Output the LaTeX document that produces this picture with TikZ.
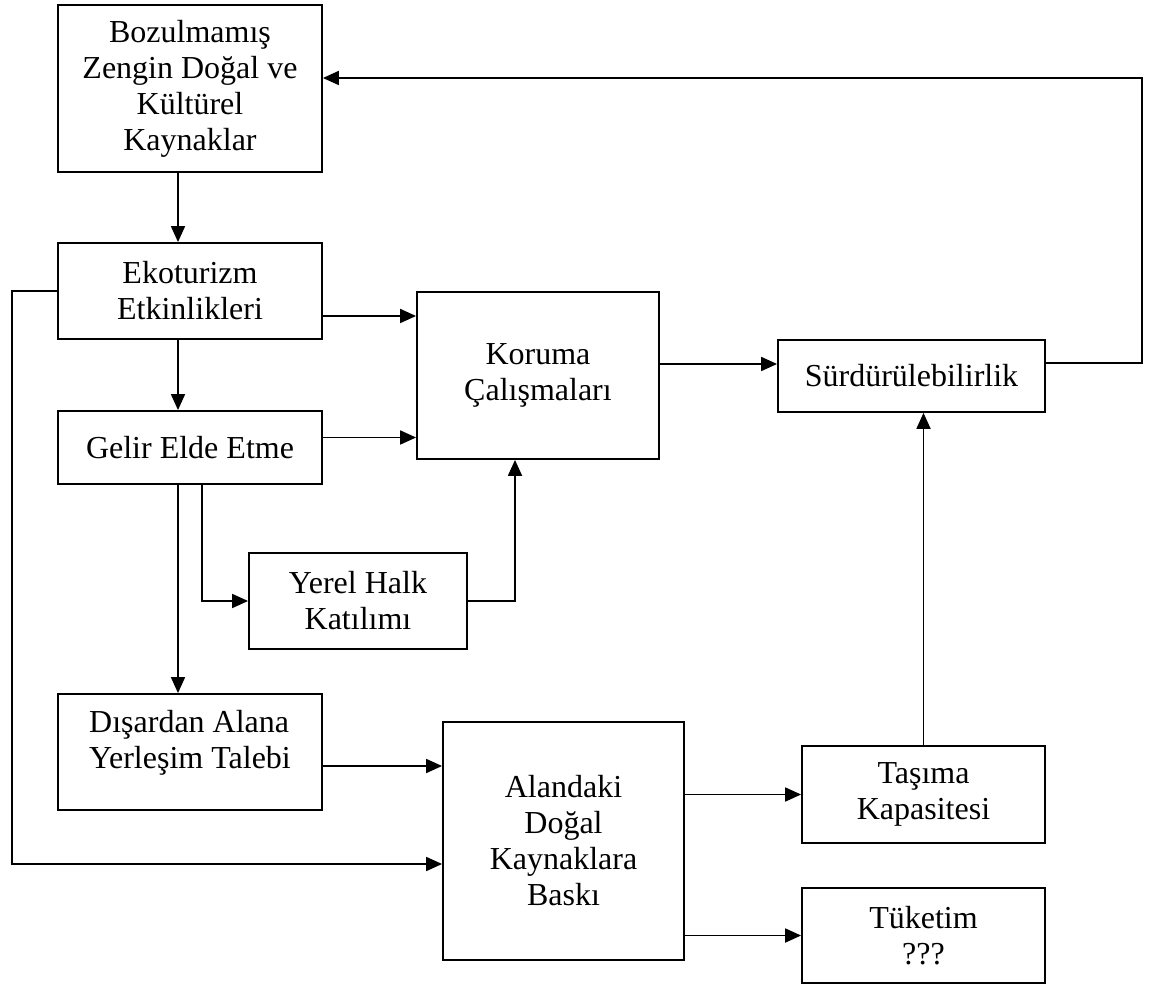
\documentclass[tikz,border=0pt]{standalone}
\usepackage{fontspec}
\setmainfont{Liberation Serif}
\usepackage{tikz}
\usetikzlibrary{calc,positioning,arrows.meta,shapes}
\tikzset{
>={Triangle[length=8pt,width=7pt]},
  kutu/.style={
    rectangle,
    draw=black, line width=0.9pt,
    align=center,
    inner sep=0pt,
    font=\fontsize{16}{18}\selectfont},
  line/.style={draw, line width=0.9pt, ->},
}

\begin{document}
\begin{tikzpicture}[x=0.5pt,y=-0.5pt]
  \useasboundingbox (0,0) rectangle (1151,988);
  % kutular
  \node[kutu, minimum width=132pt, minimum height=83.5pt] (bozul) at (190,88.5)
    {Bozulmamış\\Zengin Doğal ve\\Kültürel\\Kaynaklar};
  \node[kutu, minimum width=132pt, minimum height=48pt] (eko) at (190,291)
    {Ekoturizm\\Etkinlikleri};
  \node[kutu, minimum width=132pt, minimum height=36.5pt] (gelir) at (190,447.5)
    {Gelir Elde Etme};
  \node[kutu, minimum width=132pt, minimum height=58pt, align=left, text depth=13pt] (disar) at (190,752)
    {Dışardan Alana\\Yerleşim Talebi};
  \node[kutu, minimum width=121pt, minimum height=83.5pt] (koruma) at (538,375.5)
    {Koruma\\Çalışmaları};
  \node[kutu, minimum width=133.5pt, minimum height=36pt] (surd) at (911.5,376)
    {Sürdürülebilirlik};
  \node[kutu, minimum width=109pt, minimum height=48pt] (yerel) at (358,601)
    {Yerel Halk\\Katılımı};
  \node[kutu, minimum width=120.5pt, minimum height=119pt] (alan) at (563.5,841)
    {Alandaki\\Doğal\\Kaynaklara\\Baskı};
  \node[kutu, minimum width=121.5pt, minimum height=48.5pt] (tasima) at (923.5,794.5)
    {Taşıma\\Kapasitesi};
  \node[kutu, minimum width=121.5pt, minimum height=47.5pt] (tuketim) at (923.5,935.5)
    {Tüketim\\???};
  % kose noktalari
  \coordinate (geri) at (1142,78);
  \coordinate (dongu) at (12,864);
  % oklar
  \draw[line] (bozul.south -| 178,0) -- (eko.north -| 178,0);
  \draw[line] (eko.south -| 178,0) -- (gelir.north -| 178,0);
  \draw[line] (gelir.south -| 178,0) -- (disar.north -| 178,0);
  \draw[line] (gelir.south -| 202,0) |- (yerel.west);
  \draw[line] (yerel.east) -| (koruma.south -| 515,0);
  \draw[line] (eko.east |- 0,316) -- (koruma.west |- 0,316);
  \draw[line] (gelir.east |- 0,437.5) -- (koruma.west |- 0,437.5);
  \draw[line] (koruma.east |- 0,364) -- (surd.west |- 0,364);
  \draw[line] (surd.east |- 0,363) -| (geri) -- (bozul.east |- geri);
  \draw[line] (eko.west) -| (dongu) -- (alan.west |- dongu);
  \draw[line] (disar.east |- 0,766) -- (alan.west |- 0,766);
  \draw[line] (alan.east |- tasima.west) -- (tasima.west);
  \draw[line] (alan.east |- tuketim.west) -- (tuketim.west);
  \draw[line] (tasima.north) -- (surd.south -| tasima.north);
\end{tikzpicture}
\end{document}
